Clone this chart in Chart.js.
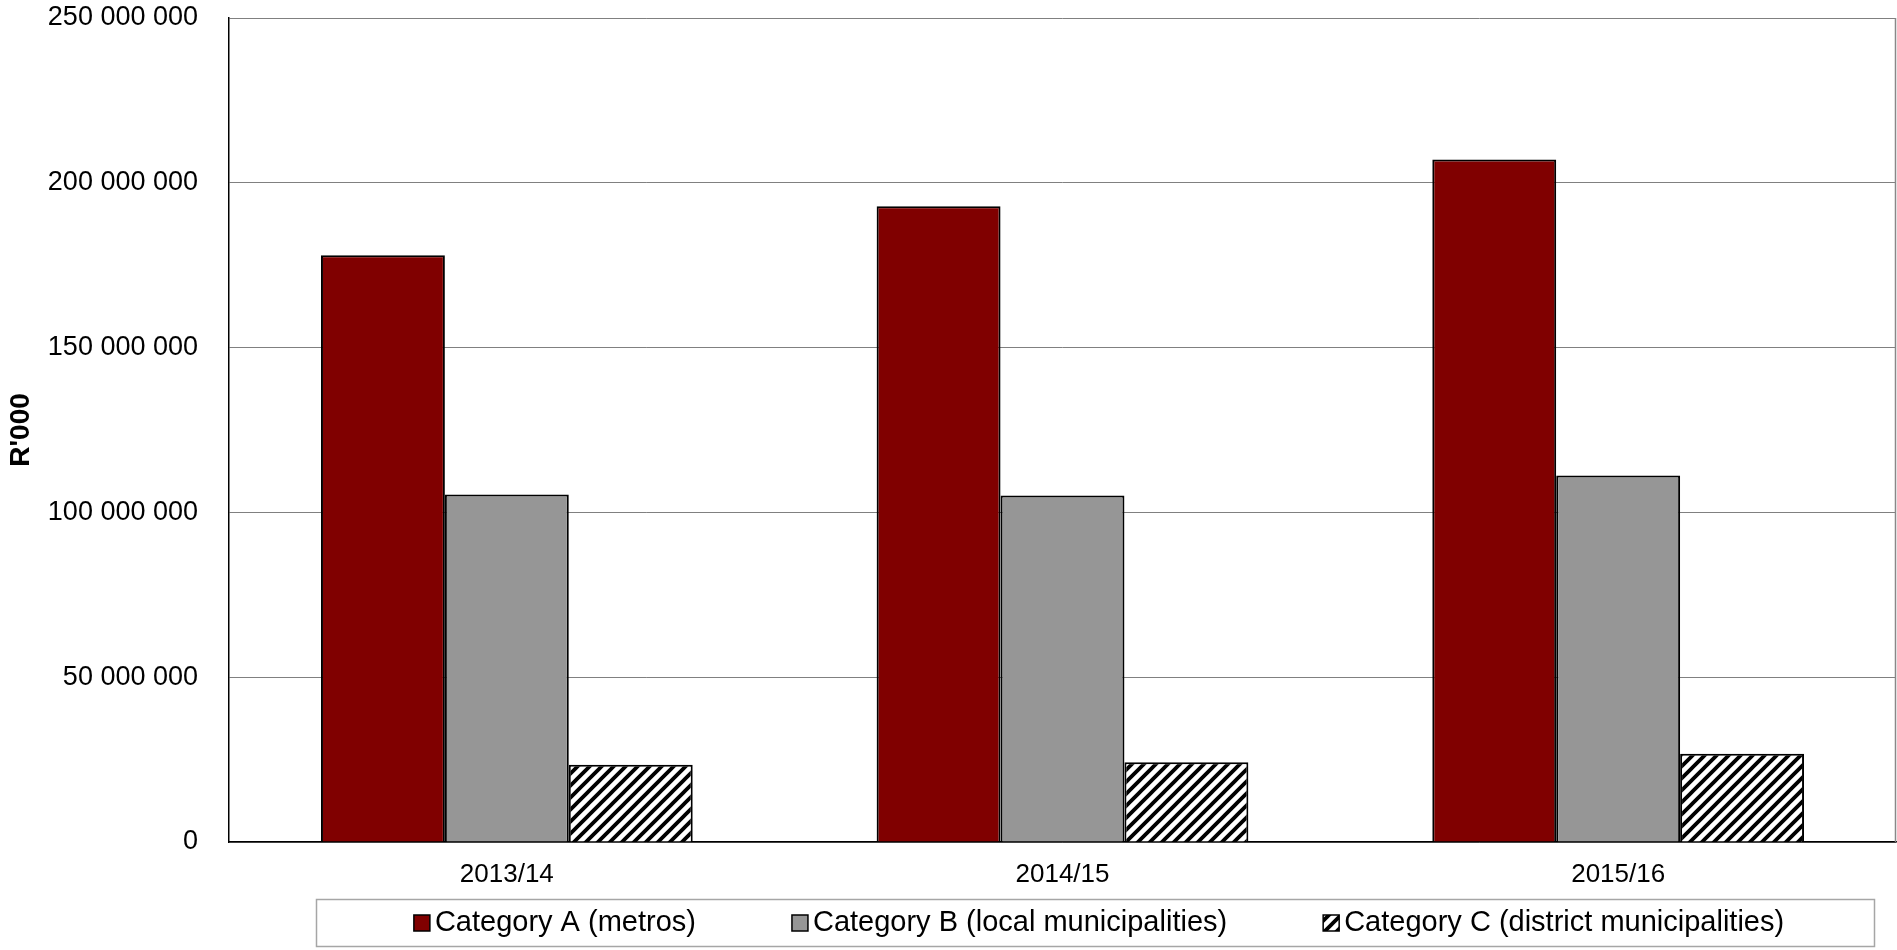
<!DOCTYPE html>
<html><head><meta charset="utf-8">
<script src="https://cdn.jsdelivr.net/npm/chart.js@4/dist/chart.umd.min.js"></script>
<style>html,body{margin:0;padding:0;background:#fff;overflow:hidden}#wrap{width:1897px;height:950px;position:relative}</style>
</head><body><div id="wrap"><canvas id="c" width="1897" height="950"></canvas></div>
<script>
const categories = ['2013/14', '2014/15', '2015/16'];
const seriesNames = ['Category A (metros)', 'Category B (local municipalities)', 'Category C (district municipalities)'];
const categoryA = [178000000, 192900000, 207100000];
const categoryB = [105400000, 105100000, 111200000];
const categoryC = [23400000, 24200000, 26800000];
const yTicks = [0, 50000000, 100000000, 150000000, 200000000, 250000000];
const yTitle = "R'000";

const FONT = '"Liberation Sans", Arial, sans-serif';

function hatchPattern() {
  const s = 12;
  const c = document.createElement('canvas');
  c.width = s; c.height = s;
  const g = c.getContext('2d');
  g.fillStyle = '#fff'; g.fillRect(0, 0, s, s);
  g.strokeStyle = '#000'; g.lineWidth = 3.8; g.lineCap = 'square';
  g.beginPath();
  g.moveTo(0, s); g.lineTo(s, 0);
  g.moveTo(-s / 2, s / 2); g.lineTo(s / 2, -s / 2);
  g.moveTo(s / 2, s * 1.5); g.lineTo(s * 1.5, s / 2);
  g.stroke();
  return g.createPattern(c, 'repeat');
}

function fmt(v) { return String(v).replace(/\B(?=(\d{3})+(?!\d))/g, ' '); }

const frameAndLegend = {
  id: 'frameAndLegend',
  afterDatasetsDraw(chart) {
    const ctx = chart.ctx, a = chart.chartArea;
    ctx.save();
    ctx.strokeStyle = '#888'; ctx.lineWidth = 1.5;
    ctx.beginPath(); ctx.moveTo(a.right - 0.5, a.top); ctx.lineTo(a.right - 0.5, a.bottom); ctx.stroke();
    ctx.restore();
  },
  afterDraw(chart) {
    const ctx = chart.ctx;
    ctx.save();
    ctx.strokeStyle = '#a6a6a6'; ctx.lineWidth = 1.5;
    ctx.strokeRect(316.5, 899.5, 1558, 47);
    ctx.font = '29px ' + FONT;
    const box = 16, gapT = 5, gapI = 96;
    const items = chart.data.datasets.map(d => ({ text: d.label, fill: d.backgroundColor }));
    const widths = items.map(it => box + gapT + ctx.measureText(it.text).width);
    const total = widths.reduce((p, q) => p + q, 0) + gapI * (items.length - 1);
    let x = 1099 - total / 2; const cy = 923;
    items.forEach((it, i) => {
      ctx.fillStyle = it.fill; ctx.fillRect(x, cy - 8, box, box);
      ctx.strokeStyle = '#000'; ctx.lineWidth = 1.5; ctx.strokeRect(x, cy - 8, box, box);
      ctx.fillStyle = '#000'; ctx.textBaseline = 'middle'; ctx.textAlign = 'left';
      ctx.fillText(it.text, x + box + gapT, cy);
      x += widths[i] + gapI;
    });
    ctx.restore();
  }
};

const hatch = hatchPattern();
const common = { borderColor: '#000', borderWidth: 2, borderSkipped: 'bottom', barPercentage: 1.0, categoryPercentage: 0.669 };

new Chart(document.getElementById('c'), {
  type: 'bar',
  data: {
    labels: categories,
    datasets: [
      Object.assign({ label: seriesNames[0], data: categoryA, backgroundColor: '#800000' }, common),
      Object.assign({ label: seriesNames[1], data: categoryB, backgroundColor: '#969696' }, common),
      Object.assign({ label: seriesNames[2], data: categoryC, backgroundColor: hatch }, common)
    ]
  },
  options: {
    responsive: false,
    devicePixelRatio: 1,
    animation: false,
    layout: { padding: { top: 18, right: 1, bottom: 62, left: 0 } },
    plugins: { legend: { display: false }, tooltip: { enabled: false } },
    scales: {
      x: {
        grid: { display: false },
        border: { display: true, color: '#000', width: 1.5 },
        ticks: { color: '#000', font: { family: FONT, size: 26 }, padding: 9, maxRotation: 0 },
        afterFit: s => { s.height = 46; }
      },
      y: {
        min: 0, max: 250000000,
        afterBuildTicks: s => { s.ticks = yTicks.map(v => ({ value: v })); },
        grid: { color: '#808080', lineWidth: 1, drawTicks: false },
        border: { display: true, color: '#000', width: 1.5 },
        ticks: { color: '#000', font: { family: FONT, size: 27 }, padding: 31, callback: v => fmt(v) },
        title: { display: true, text: yTitle, color: '#000', font: { family: FONT, size: 28, weight: 'bold' }, padding: { top: 4, bottom: 0 } },
        afterFit: s => { s.width = 229; s.paddingTop = 0; s.paddingBottom = 0; }
      }
    }
  },
  plugins: [frameAndLegend]
});
</script>
</body></html>
